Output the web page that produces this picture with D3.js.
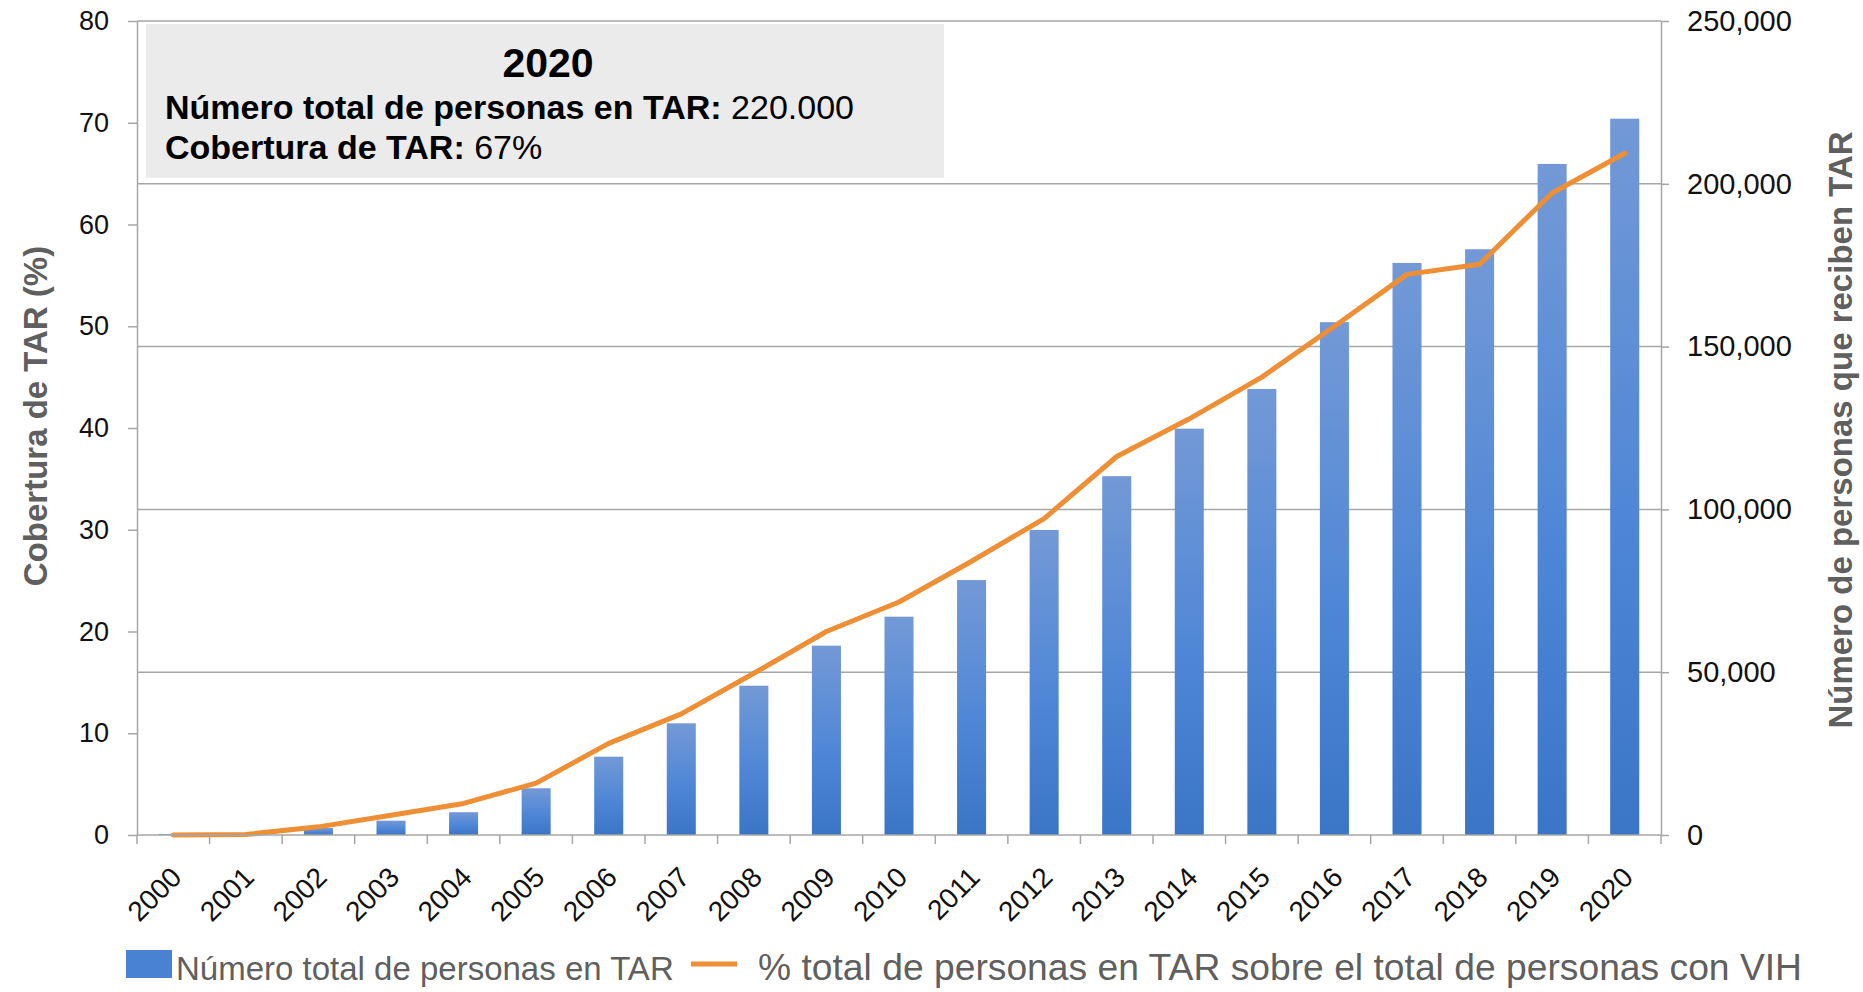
<!DOCTYPE html>
<html>
<head>
<meta charset="utf-8">
<script src="https://cdn.jsdelivr.net/npm/d3@7"></script>
<style>
body { margin: 0; background: #fff; }
text { font-family: "Liberation Sans", Arial, sans-serif; }
</style>
</head>
<body>
<div class="chart"></div>
<script>
// Data
const years = ['2000', '2001', '2002', '2003', '2004', '2005', '2006', '2007', '2008', '2009', '2010',
    '2011', '2012', '2013', '2014', '2015', '2016', '2017', '2018', '2019', '2020'];
const personasTAR = [300, 400, 2150, 4400, 7000, 14350, 24050, 34300, 45850, 58150, 67050,
    78300, 93700, 110200, 124800, 137000, 157500, 175700, 179900, 206100, 220000];
const coberturaTAR = [0, 0.05, 0.8, 1.95, 3.1, 5.1, 9.0, 11.9, 15.9, 20.0, 22.9,
    26.9, 31.1, 37.2, 40.9, 45.0, 50.0, 55.1, 56.1, 63.1, 67.0];
const leftTicks = [0, 10, 20, 30, 40, 50, 60, 70, 80];
const rightTicks = [0, 50000, 100000, 150000, 200000, 250000];

const infoTitle = '2020';
const infoLines = [
    ['Número total de personas en TAR:', ' 220.000'],
    ['Cobertura de TAR:', ' 67%']
];
const titleLeft = 'Cobertura de TAR (%)';
const titleRight = 'Número de personas que reciben TAR';
const legendBar = 'Número total de personas en TAR';
const legendLine = '% total de personas en TAR sobre el total de personas con VIH';

// Set chart dimensions
const width = 1863, height = 992, margin = { top: 21, right: 202, bottom: 157, left: 137 };
const gridColor = '#a6a6a6', orange = '#ef8f35', labelGray = '#5f5f5f';

const svg = d3.select('.chart').append('svg')
    .attr('width', width)
    .attr('height', height);

// Scales
const xScale = d3.scaleBand().domain(years).range([margin.left, width - margin.right])
    .paddingInner(0.6).paddingOuter(0.3);
const xSlots = d3.scaleBand().domain(years).range([margin.left, width - margin.right]);
const yLeft = d3.scaleLinear().domain([0, 80]).range([height - margin.bottom, margin.top]);
const yRight = d3.scaleLinear().domain([0, 250000]).range([height - margin.bottom, margin.top]);

// Bar gradient
const grad = svg.append('defs').append('linearGradient')
    .attr('id', 'barGrad').attr('x1', 0).attr('y1', 0).attr('x2', 0).attr('y2', 1);
grad.append('stop').attr('offset', '0%').attr('stop-color', '#7399d6');
grad.append('stop').attr('offset', '55%').attr('stop-color', '#4f87d6');
grad.append('stop').attr('offset', '100%').attr('stop-color', '#3b75c6');

// Info box
svg.append('rect')
    .attr('x', 146).attr('y', 24).attr('width', 798).attr('height', 154)
    .attr('fill', '#ebebeb');
svg.append('text')
    .attr('x', 548).attr('y', 77)
    .attr('text-anchor', 'middle')
    .style('font-size', '41px').style('font-weight', 'bold')
    .text(infoTitle);
infoLines.forEach((line, i) => {
    const t = svg.append('text')
        .attr('x', 165).attr('y', 119 + i * 40)
        .style('font-size', '34px');
    t.append('tspan').style('font-weight', 'bold').text(line[0]);
    t.append('tspan').text(line[1]);
});

// Gridlines (right axis)
svg.append('g')
    .selectAll('line')
    .data(rightTicks.filter(d => d > 0))
    .join('line')
    .attr('x1', margin.left).attr('x2', width - margin.right)
    .attr('y1', d => yRight(d)).attr('y2', d => yRight(d))
    .attr('stroke', gridColor).attr('stroke-width', 1.5);

// Bars
svg.append('g')
    .selectAll('rect')
    .data(years)
    .join('rect')
    .attr('x', (d) => xScale(d))
    .attr('width', xScale.bandwidth())
    .attr('y', (d, i) => yRight(personasTAR[i]))
    .attr('height', (d, i) => yRight(0) - yRight(personasTAR[i]))
    .attr('fill', 'url(#barGrad)');

// Coverage line
const lineGenerator = d3.line()
    .x((d, i) => xScale(years[i]) + xScale.bandwidth() / 2)
    .y(d => yLeft(d));

svg.append('path')
    .datum(coberturaTAR)
    .attr('d', lineGenerator)
    .attr('fill', 'none')
    .attr('stroke', orange)
    .attr('stroke-width', 5)
    .attr('stroke-linejoin', 'round')
    .attr('stroke-linecap', 'round');

function styleAxis(g) {
    g.select('.domain').attr('stroke', gridColor).attr('stroke-width', 1.5);
    g.selectAll('.tick line').attr('stroke', gridColor).attr('stroke-width', 1.5);
    g.selectAll('.tick text').attr('fill', '#111').style('font-family', '"Liberation Sans", Arial, sans-serif');
}

// Left axis
svg.append('g')
    .attr('transform', `translate(${margin.left},0)`)
    .call(d3.axisLeft(yLeft).tickValues(leftTicks).tickSize(9).tickSizeOuter(0).tickPadding(19))
    .call(styleAxis)
    .selectAll('.tick text').style('font-size', '27px');

// Right axis
svg.append('g')
    .attr('transform', `translate(${width - margin.right},0)`)
    .call(d3.axisRight(yRight).tickValues(rightTicks).tickSize(8).tickSizeOuter(0).tickPadding(18)
        .tickFormat(d3.format(',')))
    .call(styleAxis)
    .selectAll('.tick text').style('font-size', '29px');

// X axis: baseline, boundary ticks, rotated labels
const xAxis = svg.append('g').attr('transform', `translate(0,${height - margin.bottom})`);
xAxis.append('line')
    .attr('x1', margin.left).attr('x2', width - margin.right)
    .attr('stroke', gridColor).attr('stroke-width', 1.5);
xAxis.selectAll('.xtick')
    .data(years.concat(['end']))
    .join('line')
    .attr('class', 'xtick')
    .attr('x1', d => d === 'end' ? width - margin.right : xSlots(d))
    .attr('x2', d => d === 'end' ? width - margin.right : xSlots(d))
    .attr('y1', 0).attr('y2', 9)
    .attr('stroke', gridColor).attr('stroke-width', 1.5);
xAxis.selectAll('.xlabel')
    .data(years)
    .join('text')
    .attr('class', 'xlabel')
    .attr('transform', d => `translate(${xScale(d) + xScale.bandwidth() / 2 + 10},44) rotate(-45)`)
    .attr('text-anchor', 'end')
    .attr('fill', '#111')
    .style('font-size', '28px')
    .text(d => d);

// Axis titles
svg.append('text')
    .attr('transform', `translate(47,416) rotate(-90)`)
    .attr('text-anchor', 'middle')
    .attr('fill', labelGray)
    .style('font-size', '33px').style('font-weight', 'bold')
    .text(titleLeft);
svg.append('text')
    .attr('transform', `translate(1852,430) rotate(-90)`)
    .attr('text-anchor', 'middle')
    .attr('fill', labelGray)
    .style('font-size', '33px').style('font-weight', 'bold')
    .text(titleRight);

// Legend
const legend = svg.append('g').attr('transform', 'translate(126,980)');
legend.append('rect')
    .attr('x', 0).attr('y', -30).attr('width', 46).attr('height', 28)
    .attr('fill', '#4a82d2');
legend.append('text')
    .attr('x', 50).attr('y', 0)
    .attr('fill', labelGray)
    .style('font-size', '33px')
    .text(legendBar);
legend.append('line')
    .attr('x1', 565).attr('x2', 611).attr('y1', -16).attr('y2', -16)
    .attr('stroke', orange).attr('stroke-width', 5);
legend.append('text')
    .attr('x', 632).attr('y', 0)
    .attr('fill', labelGray)
    .style('font-size', '36px')
    .attr('textLength', 1044)
    .attr('lengthAdjust', 'spacingAndGlyphs')
    .text(legendLine);
</script>
</body>
</html>
